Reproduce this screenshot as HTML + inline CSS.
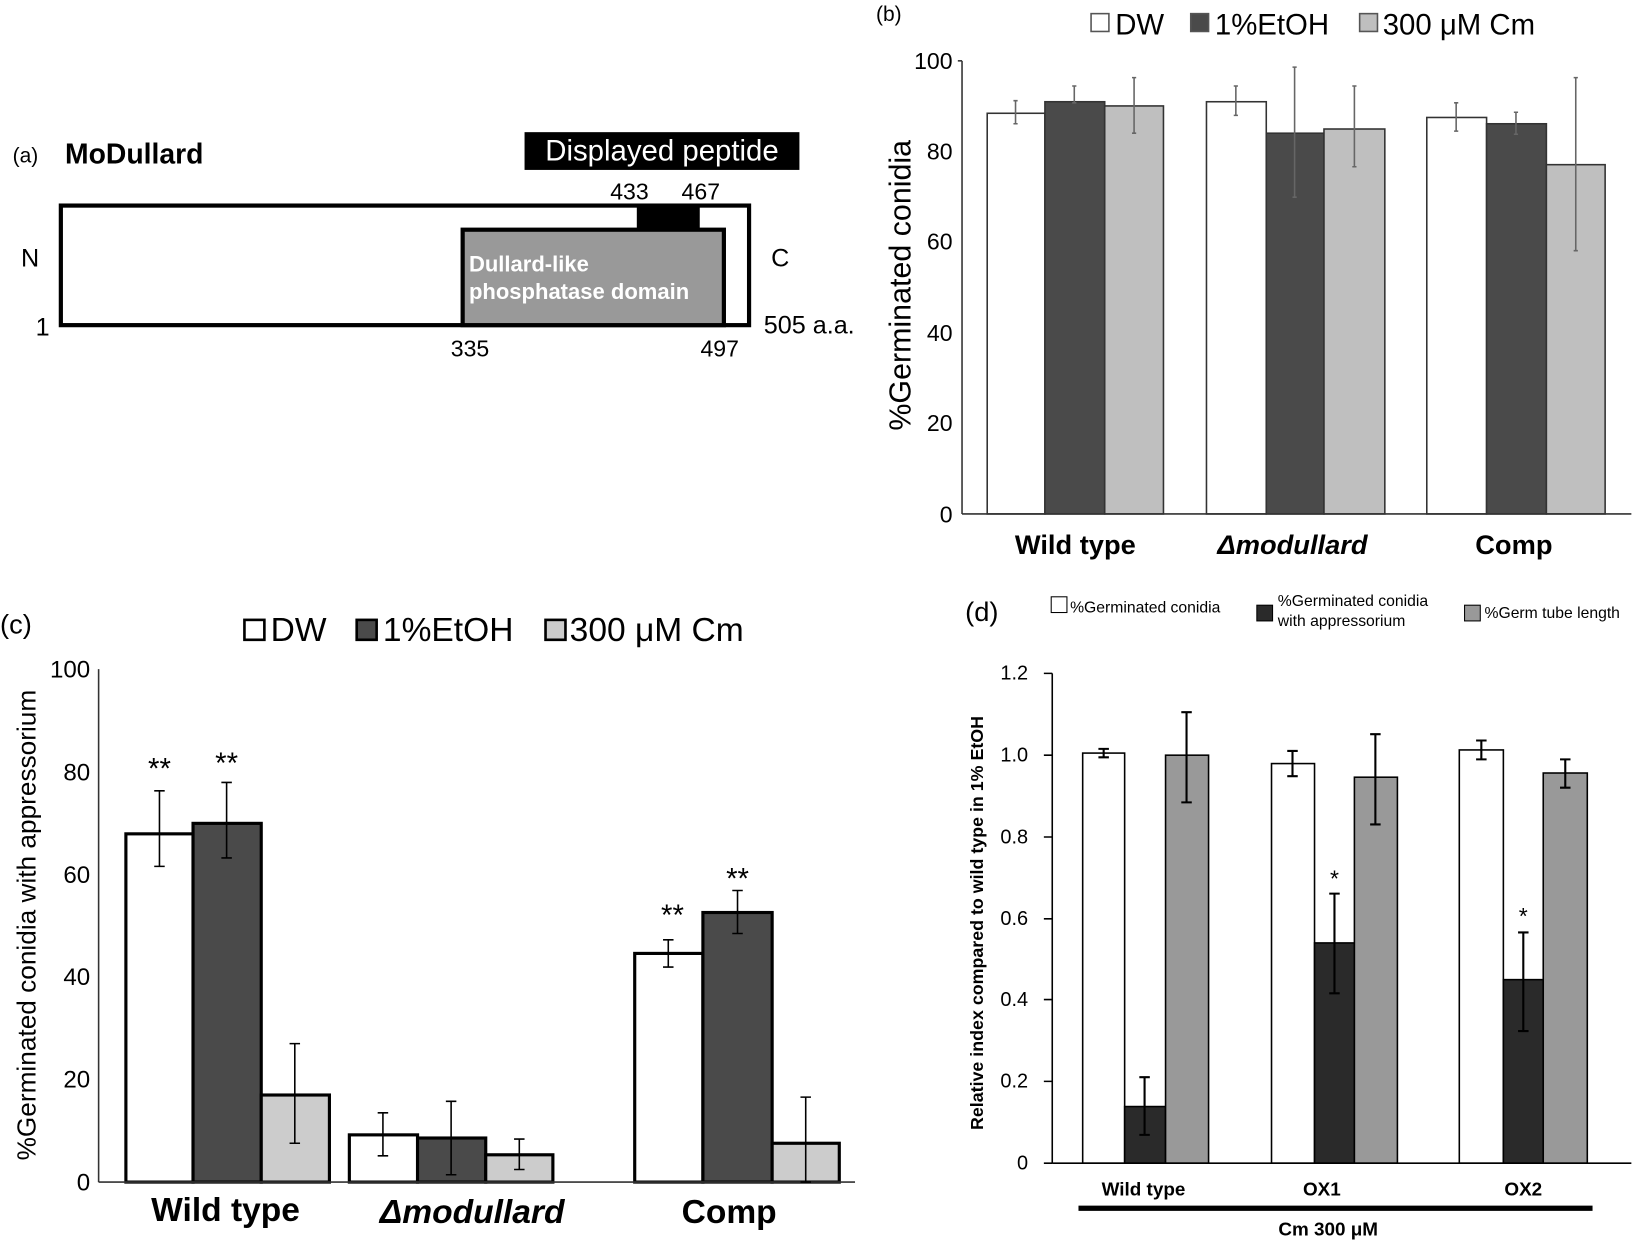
<!DOCTYPE html>
<html><head><meta charset="utf-8"><style>html,body{margin:0;padding:0;background:#fff}svg{display:block}text{font-family:"Liberation Sans",sans-serif}</style></head><body>
<svg width="1645" height="1245" viewBox="0 0 1568 1187" preserveAspectRatio="none" xmlns="http://www.w3.org/2000/svg">
<!-- Panel a -->
<text x="12" y="155" font-size="20">(a)</text>
<text x="62" y="156" font-size="27" font-weight="bold">MoDullard</text>
<rect x="500" y="126" width="262" height="36" fill="#000"/>
<text x="631" y="153" font-size="28" fill="#fff" text-anchor="middle">Displayed peptide</text>
<text x="600" y="190" font-size="22" text-anchor="middle">433</text>
<text x="668" y="190" font-size="22" text-anchor="middle">467</text>
<rect x="58" y="196" width="656" height="114" fill="#fff" stroke="#000" stroke-width="4"/>
<rect x="607" y="196" width="60" height="24" fill="#000"/>
<rect x="441" y="219" width="249" height="91" fill="#999" stroke="#000" stroke-width="4"/>
<text x="447" y="259" font-size="21" font-weight="bold" fill="#fff">Dullard-like</text>
<text x="447" y="285" font-size="21" font-weight="bold" fill="#fff">phosphatase domain</text>
<text x="20" y="254" font-size="24">N</text>
<text x="735" y="254" font-size="24">C</text>
<text x="34" y="320" font-size="24">1</text>
<text x="728" y="318" font-size="24">505 a.a.</text>
<text x="448" y="340" font-size="22" text-anchor="middle">335</text>
<text x="686" y="340" font-size="22" text-anchor="middle">497</text>

<!-- Panel b -->
<text x="835" y="20" font-size="20">(b)</text>
<g font-size="28">
<rect x="1040" y="13" width="17" height="17" fill="#fff" stroke="#555" stroke-width="1.5"/><text x="1063" y="33">DW</text>
<rect x="1135" y="13" width="17" height="17" fill="#4a4a4a" stroke="#555" stroke-width="1.5"/><text x="1158" y="33">1%EtOH</text>
<rect x="1296" y="13" width="17" height="17" fill="#bfbfbf" stroke="#555" stroke-width="1.5"/><text x="1318" y="33">300 μM Cm</text>
</g>
<g font-size="22" text-anchor="end">
<text x="908" y="66">100</text><text x="908" y="152">80</text><text x="908" y="238">60</text><text x="908" y="325">40</text><text x="908" y="411">20</text><text x="908" y="498">0</text>
</g>
<text transform="translate(868,272) rotate(-90)" font-size="29" text-anchor="middle">%Germinated conidia</text>
<g stroke="#333" stroke-width="1.5">
<rect x="941" y="108" width="55" height="382" fill="#fff"/>
<rect x="996" y="97" width="57" height="393" fill="#4a4a4a"/>
<rect x="1053" y="101" width="56" height="389" fill="#bfbfbf"/>
<rect x="1150" y="97" width="57" height="393" fill="#fff"/>
<rect x="1207" y="127" width="55" height="363" fill="#4a4a4a"/>
<rect x="1262" y="123" width="58" height="367" fill="#bfbfbf"/>
<rect x="1360" y="112" width="57" height="378" fill="#fff"/>
<rect x="1417" y="118" width="57" height="372" fill="#4a4a4a"/>
<rect x="1474" y="157" width="56" height="333" fill="#bfbfbf"/>
</g>
<line x1="917" y1="58" x2="917" y2="490" stroke="#333" stroke-width="1.5"/>
<line x1="917" y1="490" x2="1555" y2="490" stroke="#333" stroke-width="1.5"/>
<line x1="913" y1="58" x2="917" y2="58" stroke="#333" stroke-width="1.5"/>
<g stroke="#666" stroke-width="1.5">
<path d="M968 96V118M966 96H970M966 118H970"/>
<path d="M1024 82V98M1022 82H1026M1022 98H1026"/>
<path d="M1081 74V127M1079 74H1083M1079 127H1083"/>
<path d="M1178 82V110M1176 82H1180M1176 110H1180"/>
<path d="M1234 64V188M1232 64H1236M1232 188H1236"/>
<path d="M1291 82V159M1289 82H1293M1289 159H1293"/>
<path d="M1388 98V125M1386 98H1390M1386 125H1390"/>
<path d="M1445 107V128M1443 107H1447M1443 128H1447"/>
<path d="M1502 74V239M1500 74H1504M1500 239H1504"/>
</g>
<g font-size="26" font-weight="bold" text-anchor="middle">
<text x="1025" y="528">Wild type</text>
<text x="1232" y="528" font-style="italic">Δmodullard</text>
<text x="1443" y="528">Comp</text>
</g>

<!-- Panel c -->
<text x="0" y="604" font-size="26">(c)</text>
<g font-size="32">
<rect x="233" y="591" width="19" height="19" fill="#fff" stroke="#000" stroke-width="2.5"/><text x="258" y="611">DW</text>
<rect x="340" y="591" width="19" height="19" fill="#4a4a4a" stroke="#000" stroke-width="2.5"/><text x="365" y="611">1%EtOH</text>
<rect x="520" y="591" width="19" height="19" fill="#ccc" stroke="#000" stroke-width="2.5"/><text x="543" y="611">300 μM Cm</text>
</g>
<g font-size="23" text-anchor="end">
<text x="86" y="646">100</text><text x="86" y="744">80</text><text x="86" y="842">60</text><text x="86" y="939">40</text><text x="86" y="1037">20</text><text x="86" y="1135">0</text>
</g>
<text transform="translate(34,882) rotate(-90)" font-size="25" text-anchor="middle">%Germinated conidia with appressorium</text>
<g stroke="#000" stroke-width="3">
<rect x="120" y="795" width="64" height="332" fill="#fff"/>
<rect x="184" y="785" width="65" height="342" fill="#4a4a4a"/>
<rect x="249" y="1044" width="65" height="83" fill="#ccc"/>
<rect x="333" y="1082" width="65" height="45" fill="#fff"/>
<rect x="398" y="1085" width="65" height="42" fill="#4a4a4a"/>
<rect x="463" y="1101" width="64" height="26" fill="#ccc"/>
<rect x="605" y="909" width="65" height="218" fill="#fff"/>
<rect x="670" y="870" width="66" height="257" fill="#4a4a4a"/>
<rect x="736" y="1090" width="64" height="37" fill="#ccc"/>
</g>
<line x1="94" y1="638" x2="94" y2="1127" stroke="#333" stroke-width="1.5"/>
<line x1="94" y1="1127" x2="815" y2="1127" stroke="#333" stroke-width="1.5"/>
<g stroke="#000" stroke-width="1.5">
<path d="M152 826V754M147 826H157M147 754H157"/>
<path d="M216 818V746M211 818H221M211 746H221"/>
<path d="M281 1090V995M276 1090H286M276 995H286"/>
<path d="M365 1102V1061M360 1102H370M360 1061H370"/>
<path d="M430 1120V1050M425 1120H435M425 1050H435"/>
<path d="M495 1115V1086M490 1115H500M490 1086H500"/>
<path d="M637 922V896M632 922H642M632 896H642"/>
<path d="M703 890V849M698 890H708M698 849H708"/>
<path d="M768 1127V1046M763 1127H773M763 1046H773"/>
</g>
<g font-size="28" text-anchor="middle">
<text x="152" y="742">**</text><text x="216" y="737">**</text><text x="641" y="882">**</text><text x="703" y="847">**</text>
</g>
<g font-size="32" font-weight="bold" text-anchor="middle">
<text x="215" y="1164">Wild type</text>
<text x="450" y="1166" font-style="italic">Δmodullard</text>
<text x="695" y="1166">Comp</text>
</g>

<!-- Panel d -->
<text x="920" y="592" font-size="26">(d)</text>
<g font-size="15">
<rect x="1002" y="569" width="15" height="15" fill="#fff" stroke="#000"/><text x="1020" y="584">%Germinated conidia</text>
<rect x="1198" y="577" width="15" height="15" fill="#2a2a2a" stroke="#000"/><text x="1218" y="578">%Germinated conidia</text><text x="1218" y="597">with appressorium</text>
<rect x="1396" y="577" width="15" height="15" fill="#999" stroke="#000"/><text x="1415" y="589">%Germ tube length</text>
</g>
<g font-size="19" text-anchor="end">
<text x="980" y="648">1.2</text><text x="980" y="726">1.0</text><text x="980" y="804">0.8</text><text x="980" y="882">0.6</text><text x="980" y="959">0.4</text><text x="980" y="1037">0.2</text><text x="980" y="1115">0</text>
</g>
<text transform="translate(937,880) rotate(-90)" font-size="17" font-weight="bold" text-anchor="middle">Relative index compared to wild type in 1% EtOH</text>
<g stroke="#000" stroke-width="1.5">
<rect x="1032" y="718" width="40" height="391" fill="#fff"/>
<rect x="1072" y="1055" width="39" height="54" fill="#2a2a2a"/>
<rect x="1111" y="720" width="41" height="389" fill="#999"/>
<rect x="1212" y="728" width="41" height="381" fill="#fff"/>
<rect x="1253" y="899" width="38" height="210" fill="#2a2a2a"/>
<rect x="1291" y="741" width="41" height="368" fill="#999"/>
<rect x="1391" y="715" width="42" height="394" fill="#fff"/>
<rect x="1433" y="934" width="38" height="175" fill="#2a2a2a"/>
<rect x="1471" y="737" width="42" height="372" fill="#999"/>
</g>
<line x1="1003" y1="642" x2="1003" y2="1109" stroke="#000" stroke-width="1.5"/>
<line x1="1003" y1="1109" x2="1555" y2="1109" stroke="#000" stroke-width="1.5"/>
<path d="M995 642H1003M995 720H1003M995 798H1003M995 876H1003M995 953H1003M995 1031H1003M995 1109H1003" stroke="#000" stroke-width="1.5"/>
<g stroke="#000" stroke-width="2">
<path d="M1052 714V722M1047 714H1057M1047 722H1057"/>
<path d="M1091 1082V1027M1086 1082H1096M1086 1027H1096"/>
<path d="M1131 765V679M1126 765H1136M1126 679H1136"/>
<path d="M1232 740V716M1227 740H1237M1227 716H1237"/>
<path d="M1272 947V852M1267 947H1277M1267 852H1277"/>
<path d="M1311 786V700M1306 786H1316M1306 700H1316"/>
<path d="M1412 724V706M1407 724H1417M1407 706H1417"/>
<path d="M1452 983V889M1447 983H1457M1447 889H1457"/>
<path d="M1492 751V724M1487 751H1497M1487 724H1497"/>
</g>
<text x="1272" y="845" font-size="22" text-anchor="middle">*</text>
<text x="1452" y="881" font-size="22" text-anchor="middle">*</text>
<g font-size="18" font-weight="bold" text-anchor="middle">
<text x="1090" y="1140">Wild type</text><text x="1260" y="1140">OX1</text><text x="1452" y="1140">OX2</text>
</g>
<line x1="1028" y1="1152" x2="1518" y2="1152" stroke="#000" stroke-width="5"/>
<text x="1266" y="1178" font-size="18" font-weight="bold" text-anchor="middle">Cm 300 μM</text>
</svg>
</body></html>
